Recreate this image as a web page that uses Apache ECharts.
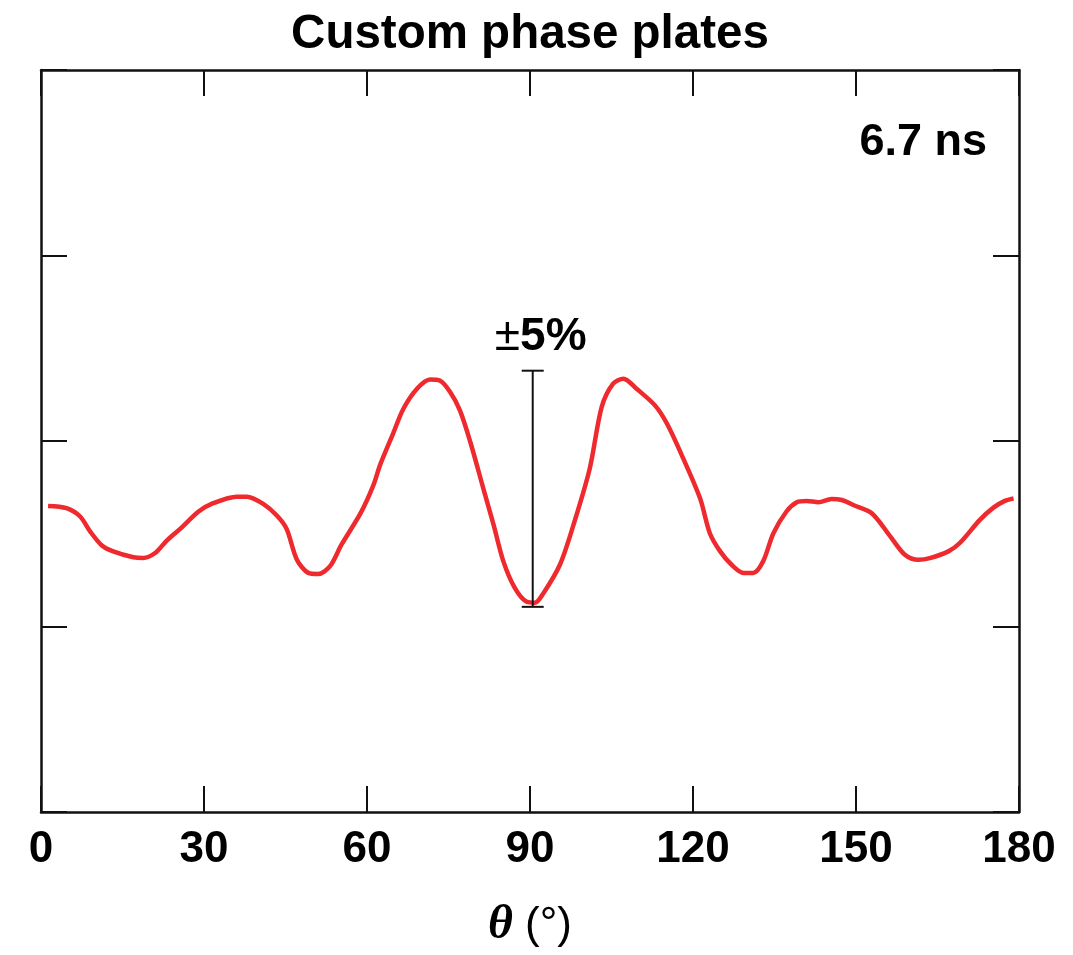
<!DOCTYPE html>
<html>
<head>
<meta charset="utf-8">
<script src="https://cdn.jsdelivr.net/npm/echarts@6/dist/echarts.min.js"></script>
<style>html,body{margin:0;padding:0;background:#fff;}#chart{width:1073px;height:955px;}</style>
</head>
<body>
<div id="chart"></div>
<script>
var thetaDeg = [1.3, 4.7, 7.2, 9.0, 11.2, 13.3, 17.0, 18.8, 21.0, 23.1, 25.6, 29.0, 31.4, 36.0, 37.9, 40.9, 43.4, 45.2, 47.1, 49.2, 51.0, 53.2, 55.3, 58.9, 61.2, 62.4, 64.8, 66.7, 69.2, 71.6, 73.4, 75.3, 77.1, 79.0, 81.4, 83.3, 85.1, 87.2, 89.4, 90.9, 92.5, 95.5, 98.0, 101.0, 103.2, 105.3, 107.2, 109.6, 113.0, 115.2, 118.2, 121.3, 123.1, 125.0, 127.1, 129.3, 131.1, 132.9, 134.8, 137.2, 139.1, 140.9, 143.1, 145.5, 147.4, 149.5, 152.9, 156.3, 159.0, 161.5, 163.6, 167.0, 169.1, 172.8, 175.3, 177.4, 179.0];
var intensity = [1.650, 1.638, 1.593, 1.514, 1.437, 1.405, 1.373, 1.369, 1.396, 1.462, 1.526, 1.620, 1.661, 1.700, 1.700, 1.661, 1.598, 1.526, 1.360, 1.289, 1.283, 1.325, 1.441, 1.615, 1.763, 1.870, 2.040, 2.174, 2.282, 2.332, 2.326, 2.264, 2.165, 1.996, 1.745, 1.548, 1.351, 1.208, 1.133, 1.128, 1.181, 1.333, 1.548, 1.852, 2.184, 2.309, 2.336, 2.282, 2.192, 2.094, 1.906, 1.691, 1.503, 1.405, 1.333, 1.289, 1.289, 1.351, 1.503, 1.620, 1.670, 1.677, 1.670, 1.688, 1.682, 1.655, 1.611, 1.486, 1.387, 1.360, 1.369, 1.405, 1.450, 1.575, 1.641, 1.677, 1.691];
var xTicks = [0, 30, 60, 90, 120, 150, 180];
var errTheta = [90.5];
var errLow = [1.106];
var errHigh = [2.379];
var errLabel = '±5%';
var titleText = 'Custom phase plates';
var timeText = '6.7 ns';

var lineData = thetaDeg.map(function (t, i) { return [t, intensity[i]]; });
var errData = errTheta.map(function (t, i) { return [t, errLow[i], errHigh[i]]; });

var chart = echarts.init(document.getElementById('chart'), null, {renderer: 'canvas'});
var axisLineStyle = {color: '#111', width: 2.5};
var sans = '"Liberation Sans", Arial, Helvetica, sans-serif';
var tickStyle = {show: true, inside: true, length: 26, lineStyle: {color: '#111', width: 2}};

chart.setOption({
  animation: false,
  backgroundColor: '#fff',
  title: {
    text: titleText,
    left: 525,
    textAlign: 'center',
    top: 6,
    textStyle: {fontFamily: sans, fontWeight: 'bold', fontSize: 47.5, color: '#000'}
  },
  grid: {left: 41, right: 54, top: 70, bottom: 140, containLabel: false},
  xAxis: [{
    type: 'value', min: 0, max: 180, interval: 30, position: 'bottom',
    axisLine: {show: true, onZero: false, lineStyle: axisLineStyle},
    axisTick: tickStyle,
    axisLabel: {show: true, margin: 16, fontFamily: sans, fontWeight: 'bold', fontSize: 44, color: '#000',
      formatter: function (v) { return xTicks.indexOf(v) >= 0 ? String(v) : ''; }},
    splitLine: {show: false},
    name: '{t|θ}{u|\u00a0(°)}',
    nameLocation: 'middle',
    nameGap: 90,
    nameTextStyle: {
      rich: {
        t: {fontFamily: '"Liberation Serif", "Times New Roman", serif', fontStyle: 'italic', fontWeight: 'bold', fontSize: 48, color: '#000'},
        u: {fontFamily: sans, fontSize: 44, color: '#000'}
      }
    }
  }, {
    type: 'value', min: 0, max: 180, interval: 30, position: 'top',
    axisLine: {show: true, onZero: false, lineStyle: axisLineStyle},
    axisTick: tickStyle,
    axisLabel: {show: false},
    splitLine: {show: false}
  }],
  yAxis: [{
    type: 'value', min: 0, max: 4, interval: 1, position: 'left',
    axisLine: {show: true, onZero: false, lineStyle: axisLineStyle},
    axisTick: tickStyle,
    axisLabel: {show: false},
    splitLine: {show: false}
  }, {
    type: 'value', min: 0, max: 4, interval: 1, position: 'right',
    axisLine: {show: true, onZero: false, lineStyle: axisLineStyle},
    axisTick: tickStyle,
    axisLabel: {show: false},
    splitLine: {show: false}
  }],
  graphic: [{
    type: 'text',
    right: 1073 - 987,
    top: 120,
    style: {text: timeText, font: 'bold 45px ' + sans, fill: '#000'}
  }],
  series: [{
    type: 'line',
    data: lineData,
    xAxisIndex: 0, yAxisIndex: 0,
    showSymbol: false,
    smooth: 0.3,
    lineStyle: {color: '#ee2a2e', width: 4.5},
    z: 3
  }, {
    type: 'custom',
    xAxisIndex: 0, yAxisIndex: 0,
    data: errData,
    z: 4,
    renderItem: function (params, api) {
      var x = api.value(0);
      var lo = api.coord([x, api.value(1)]);
      var hi = api.coord([x, api.value(2)]);
      var cw = 11;
      var ls = {stroke: '#111', lineWidth: 2};
      return {
        type: 'group',
        children: [
          {type: 'line', shape: {x1: hi[0], y1: hi[1], x2: lo[0], y2: lo[1]}, style: ls},
          {type: 'line', shape: {x1: hi[0] - cw, y1: hi[1], x2: hi[0] + cw, y2: hi[1]}, style: ls},
          {type: 'line', shape: {x1: lo[0] - cw, y1: lo[1], x2: lo[0] + cw, y2: lo[1]}, style: ls},
          {type: 'text', x: hi[0] + 8, y: hi[1] - 33, style: {
            text: '{a|±}{b|5%}',
            align: 'center', verticalAlign: 'middle',
            rich: {
              a: {fontFamily: sans, fontSize: 46, fontWeight: 'normal', fill: '#000', color: '#000'},
              b: {fontFamily: sans, fontSize: 46, fontWeight: 'bold', fill: '#000', color: '#000'}
            }
          }}
        ]
      };
    }
  }]
});
</script>
</body>
</html>
